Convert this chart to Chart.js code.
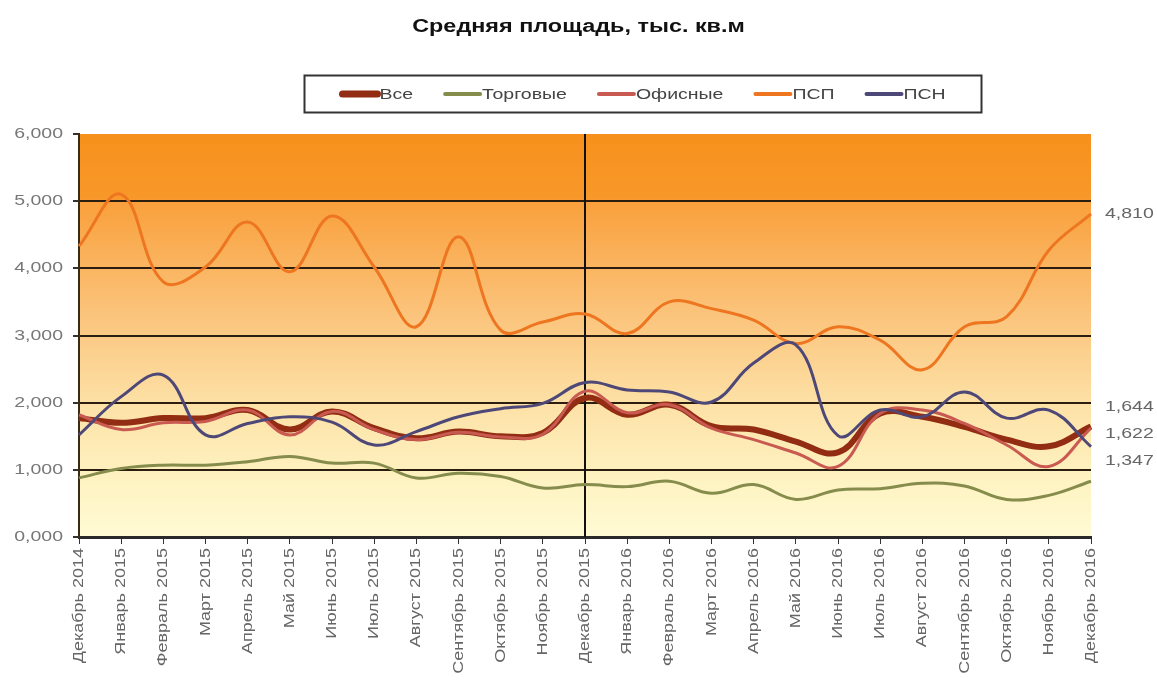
<!DOCTYPE html>
<html>
<head>
<meta charset="utf-8">
<script src="https://cdn.jsdelivr.net/npm/chart.js@4.4.1/dist/chart.umd.min.js"></script>
<style>
  body { margin: 0; background: #fff; }
  #wrap { width: 1157px; height: 689px; }
</style>
</head>
<body>
<div id="wrap"><canvas id="areaChart" width="1157" height="689"></canvas></div>
<script>
/* Средняя площадь, тыс. кв.м — Dec 2014 .. Dec 2016 */

const months = [
  'Декабрь 2014', 'Январь 2015', 'Февраль 2015', 'Март 2015', 'Апрель 2015', 'Май 2015',
  'Июнь 2015', 'Июль 2015', 'Август 2015', 'Сентябрь 2015', 'Октябрь 2015', 'Ноябрь 2015',
  'Декабрь 2015', 'Январь 2016', 'Февраль 2016', 'Март 2016', 'Апрель 2016', 'Май 2016',
  'Июнь 2016', 'Июль 2016', 'Август 2016', 'Сентябрь 2016', 'Октябрь 2016', 'Ноябрь 2016',
  'Декабрь 2016'
];

const vse       = [1.77, 1.70, 1.77, 1.77, 1.89, 1.60, 1.87, 1.62, 1.47, 1.57, 1.50, 1.55,
                   2.07, 1.82, 1.97, 1.65, 1.60, 1.42, 1.26, 1.84, 1.79, 1.64, 1.45, 1.35, 1.644];
const torgovye  = [0.88, 1.02, 1.07, 1.07, 1.12, 1.20, 1.10, 1.10, 0.88, 0.95, 0.90, 0.73,
                   0.78, 0.75, 0.83, 0.65, 0.78, 0.56, 0.70, 0.72, 0.80, 0.76, 0.56, 0.62, 0.83];
const ofisnye   = [1.82, 1.60, 1.70, 1.72, 1.89, 1.52, 1.87, 1.60, 1.45, 1.56, 1.49, 1.53,
                   2.17, 1.85, 1.97, 1.62, 1.45, 1.25, 1.05, 1.84, 1.89, 1.69, 1.37, 1.05, 1.622];
const psp       = [4.33, 5.10, 3.80, 4.02, 4.69, 3.95, 4.78, 4.02, 3.13, 4.47, 3.08, 3.20,
                   3.32, 3.03, 3.50, 3.40, 3.23, 2.88, 3.13, 2.93, 2.49, 3.13, 3.28, 4.27, 4.81];
const psn       = [1.52, 2.09, 2.41, 1.52, 1.69, 1.79, 1.71, 1.37, 1.57, 1.79, 1.91, 1.99,
                   2.30, 2.19, 2.16, 2.01, 2.59, 2.86, 1.51, 1.89, 1.79, 2.16, 1.77, 1.89, 1.347];

const yTicks = [0, 1, 2, 3, 4, 5, 6];
const dividerIndex = 12;                 /* Декабрь 2015 */
const endLabelSeries = ['Все', 'Офисные', 'ПСП', 'ПСН'];

const FONT = "'Liberation Sans', Arial, sans-serif";
const SX = 1.3;                          /* the source picture's text is stretched */
const fmt = v => v.toFixed(3).replace('.', ',');

function series(label, data, color, width, order) {
  return {
    label, data, order,
    borderColor: color,
    backgroundColor: color,
    borderWidth: width,
    pointRadius: 0,
    pointHoverRadius: 0,
    tension: 0.4,
    fill: false,
  };
}

/* draws text widened by sx along its baseline; returns its drawn width */
function wideText(ctx, text, x, y, align, sx = SX) {
  const w = ctx.measureText(text).width * sx;
  const left = align === 'center' ? x - w / 2 : align === 'right' ? x - w : x;
  ctx.save();
  ctx.translate(left, y);
  ctx.scale(sx, 1);
  ctx.textAlign = 'left';
  ctx.fillText(text, 0, 0);
  ctx.restore();
  return w;
}

/* ── plot background: orange at top fading to pale yellow ── */
const bgPlugin = {
  id: 'bg',
  beforeDraw(chart) {
    const { ctx, chartArea: a } = chart;
    const g = ctx.createLinearGradient(0, a.top, 0, a.bottom);
    g.addColorStop(0,    '#f7911c');
    g.addColorStop(0.16, '#f8982a');
    g.addColorStop(0.17, '#f9a03c');
    g.addColorStop(0.45, '#fbc47c');
    g.addColorStop(0.68, '#fde2a8');
    g.addColorStop(0.85, '#fef2c0');
    g.addColorStop(1,    '#fffbd4');
    ctx.save();
    ctx.fillStyle = g;
    ctx.fillRect(a.left, a.top, a.right - a.left, a.bottom - a.top);
    ctx.restore();
  }
};

/* ── vertical divider at Dec 2015 ── */
const dividerPlugin = {
  id: 'divider',
  beforeDatasetsDraw(chart) {
    const { ctx, chartArea: a, scales } = chart;
    const x = Math.round(scales.x.getPixelForValue(dividerIndex));
    ctx.save();
    ctx.strokeStyle = '#111';
    ctx.lineWidth = 2;
    ctx.beginPath();
    ctx.moveTo(x, a.top);
    ctx.lineTo(x, a.bottom);
    ctx.stroke();
    ctx.restore();
  }
};

/* ── title, boxed legend, axis labels and end-of-line value labels ── */
const decorPlugin = {
  id: 'decor',
  afterDraw(chart) {
    const { ctx, chartArea: a, scales } = chart;
    const W = chart.width;
    ctx.save();
    ctx.textBaseline = 'middle';

    // title
    ctx.fillStyle = '#111';
    ctx.font = 'bold 18px ' + FONT;
    wideText(ctx, 'Средняя площадь, тыс. кв.м', W / 2, 27, 'center');

    // legend
    const ds = chart.data.datasets;
    ctx.font = '15px ' + FONT;
    const sw = 39, gap = 30, padX = 36;
    const widths = ds.map(d => sw + ctx.measureText(d.label).width * SX);
    const total = widths.reduce((s, w) => s + w, 0) + gap * (ds.length - 1);
    const boxL = Math.round(W / 2 + 64 - total / 2 - padX) + 0.5;
    const boxW = Math.round(total + padX * 2);
    const boxT = 75.5, boxH = 37;
    ctx.fillStyle = '#fff';
    ctx.fillRect(boxL, boxT, boxW, boxH);
    ctx.strokeStyle = '#333';
    ctx.lineWidth = 2;
    ctx.strokeRect(boxL, boxT, boxW, boxH);
    let x = boxL + padX;
    const cy = boxT + boxH / 2;
    ds.forEach((d, i) => {
      ctx.strokeStyle = d.borderColor;
      ctx.lineWidth = d.borderWidth + 1;
      ctx.lineCap = 'round';
      ctx.beginPath();
      ctx.moveTo(x + 2, cy);
      ctx.lineTo(x + sw - 2, cy);
      ctx.stroke();
      ctx.fillStyle = '#444';
      wideText(ctx, d.label, x + sw, cy + 1, 'left');
      x += widths[i] + gap;
    });

    // y tick labels
    ctx.font = '15px ' + FONT;
    ctx.fillStyle = '#777';
    scales.y.ticks.forEach(t => {
      wideText(ctx, fmt(t.value), a.left - 16, scales.y.getPixelForValue(t.value), 'right');
    });

    // x tick labels, rotated to read upwards
    ctx.font = '15px ' + FONT;
    ctx.fillStyle = '#666';
    chart.data.labels.forEach((lab, i) => {
      const px = scales.x.getPixelForValue(i);
      ctx.save();
      ctx.translate(px, a.bottom + 11);
      ctx.rotate(-Math.PI / 2);
      wideText(ctx, lab, 0, 0, 'right', 1.2);
      ctx.restore();
    });

    // end labels, spread apart where they collide
    const labels = ds
      .filter(d => endLabelSeries.includes(d.label))
      .map(d => {
        const v = d.data[d.data.length - 1];
        return { text: fmt(v), y: scales.y.getPixelForValue(v) };
      })
      .sort((p, q) => p.y - q.y);
    const minGap = 27;
    for (let pass = 0; pass < 10; pass++) {
      let i = 0;
      while (i < labels.length) {
        let j = i;
        while (j + 1 < labels.length && labels[j + 1].y - labels[j].y < minGap - 0.01) j++;
        if (j > i) {
          const mean = labels.slice(i, j + 1).reduce((s, l) => s + l.y, 0) / (j - i + 1);
          const start = mean - minGap * (j - i) / 2;
          for (let k = i; k <= j; k++) labels[k].y = start + minGap * (k - i);
        }
        i = j + 1;
      }
    }
    ctx.font = '15px ' + FONT;
    ctx.fillStyle = '#666';
    labels.forEach(l => wideText(ctx, l.text, a.right + 14, l.y, 'left'));

    ctx.restore();
  }
};

new Chart(document.getElementById('areaChart'), {
  type: 'line',
  data: {
    labels: months,
    datasets: [
      series('Все',      vse,      '#922c12', 6, 4),
      series('Торговые', torgovye, '#858c4c', 3, 3),
      series('Офисные',  ofisnye,  '#c85a52', 3, 2),
      series('ПСП',      psp,      '#ee7620', 3, 1),
      series('ПСН',      psn,      '#4d4878', 3, 0),
    ]
  },
  options: {
    responsive: false,
    animation: false,
    layout: { padding: { top: 134, right: 66, left: 0, bottom: 0 } },
    plugins: {
      legend: { display: false },
      title: { display: false },
      tooltip: { enabled: false },
    },
    scales: {
      x: {
        offset: false,
        afterFit: s => { s.height = 152; },
        ticks: { display: false, autoSkip: false },
        grid: { drawOnChartArea: false, tickLength: 7, color: '#333', tickColor: '#333' },
        border: { color: '#2a2a2a', width: 3 },
      },
      y: {
        min: 0,
        max: 6,
        afterFit: s => { s.width = 79; },
        afterBuildTicks: s => { s.ticks = yTicks.map(v => ({ value: v })); },
        ticks: { display: false },
        grid: {
          color: c => (c.tick && c.tick.value === 6) ? 'rgba(0,0,0,0)' : '#2b1d10',
          lineWidth: 2,
          tickColor: '#333',
          tickLength: 6,
        },
        border: { color: '#3a2a1a', width: 2 },
      }
    }
  },
  plugins: [bgPlugin, dividerPlugin, decorPlugin]
});
</script>
</body>
</html>
